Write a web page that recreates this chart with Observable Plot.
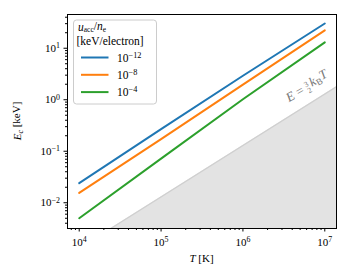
<!DOCTYPE html>
<html><head><meta charset="utf-8">
<script src="https://cdn.jsdelivr.net/npm/d3@7"></script>
<script src="https://cdn.jsdelivr.net/npm/@observablehq/plot@0.6"></script>
<style>body{margin:0;background:#fff;} svg{display:block;}</style>
</head><body><div id="chart"></div>
<script>
// ---- data ----
const temperatures = [1e4, 1e5, 1e6, 1e7];            // T [K]
const seriesExponents = ["−12", "−8", "−4"];          // u_acc/n_e = 10^exp keV/electron
const seriesColors = ["#1f77b4", "#ff7f0e", "#2ca02c"];
const energyUm12 = [0.024, 0.268, 2.92, 30.2];        // E_c [keV]
const energyUm8  = [0.0155, 0.172, 1.96, 22.2];
const energyUm4  = [0.0050, 0.072, 1.02, 13.0];
const thermalT = [1e4, 1.4e7];                        // E = 3/2 k_B T boundary
const thermalE = [0.0013, 1.81];
const annotT = [6.1e6];
const annotE = [1.78];
const xTicks = [1e4, 1e5, 1e6, 1e7];
const yTicks = [1e-2, 1e-1, 1e0, 1e1];

const seriesValues = [energyUm12, energyUm8, energyUm4];
const lineData = seriesExponents.flatMap((s, i) =>
  temperatures.map((T, j) => ({series: s, T, E: seriesValues[i][j]})));
const shadeData = thermalT.map((T, i) => ({T, E: thermalE[i]}));
const annotData = annotT.map((T, i) => ({T, E: annotE[i]}));

const minor = (lo, hi) => {
  const out = [];
  for (let d = lo; d <= hi; d++) for (let m = 2; m <= 9; m++) out.push(m * 10 ** d);
  return out;
};
const xDomain = [10 ** 3.857, 10 ** 7.143];
const yDomain = [10 ** -2.5, 10 ** 1.655];
const xMinor = minor(3, 7).filter(v => v > xDomain[0] && v < xDomain[1]);
const yMinor = minor(-3, 1).filter(v => v > yDomain[0] && v < yDomain[1]);
const fmt = d => "10^" + Math.round(Math.log10(d));

const FONT = "'Liberation Serif', 'DejaVu Serif', serif";

const plot = Plot.plot({
  width: 350, height: 280,
  marginLeft: 67, marginRight: 14, marginTop: 14, marginBottom: 52,
  style: {fontFamily: FONT, fontSize: "11px", background: "white", color: "black"},
  x: {type: "log", domain: xDomain},
  y: {type: "log", domain: yDomain},
  color: {domain: seriesExponents, range: seriesColors},
  marks: [
    Plot.areaY(shadeData, {x: "T", y1: () => 1e-4, y2: "E", fill: "#e3e3e3", clip: true}),
    Plot.line(shadeData, {x: "T", y: "E", stroke: "#cfcfcf", strokeWidth: 1.2, clip: true}),
    Plot.line(lineData, {x: "T", y: "E", z: "series", stroke: "series", strokeWidth: 2}),
    Plot.text(annotData, {x: "T", y: "E", text: () => "E", rotate: -30, fill: "#777",
      fontSize: 13, className: "annot"}),
    Plot.axisX(xMinor, {tickSize: 2, tickFormat: () => "", label: null}),
    Plot.axisX(xTicks, {tickSize: 3.5, tickPadding: 6, tickFormat: fmt, label: null, className: "xmaj"}),
    Plot.axisY(yMinor, {tickSize: 2, tickFormat: () => "", label: null}),
    Plot.axisY(yTicks, {tickSize: 3.5, tickPadding: 4, tickFormat: fmt, label: null, className: "ymaj"}),
    Plot.frame({stroke: "black", strokeWidth: 1})
  ]
});
document.getElementById("chart").append(plot);

const svg = d3.select(plot);

// power-of-ten labels with superscripts
function powerText(el, exp) {
  el.text(null);
  el.append("tspan").text("10");
  el.append("tspan").attr("dy", "-0.45em").attr("font-size", "0.72em").text(exp);
}
svg.selectAll("text").each(function () {
  const t = this.textContent;
  const m = /^10\^(-?\d+)$/.exec(t);
  if (m) powerText(d3.select(this), m[1].replace("-", "−"));
});

// annotation E = 3/2 k_B T
svg.selectAll(".annot text").each(function () {
  const el = d3.select(this).text(null);
  el.append("tspan").attr("font-style", "italic").text("E");
  el.append("tspan").text(" = ");
  el.append("tspan").attr("font-size", "0.6em").attr("dy", "-0.55em").text("3");
  el.append("tspan").attr("font-size", "0.6em").attr("dx", "-0.5em").attr("dy", "0.9em").text("2");
  el.append("tspan").attr("font-style", "italic").attr("dy", "-0.35em").attr("dx", "0.15em").text("k");
  el.append("tspan").attr("font-size", "0.7em").attr("dy", "0.25em").text("B");
  el.append("tspan").attr("font-style", "italic").attr("dy", "-0.25em").text("T");
});

// axis labels
const ylab = svg.append("text").attr("font-family", FONT).attr("font-size", 11)
  .attr("text-anchor", "middle").attr("transform", "translate(21,121) rotate(-90)");
ylab.append("tspan").attr("font-style", "italic").text("E");
ylab.append("tspan").attr("font-style", "italic").attr("font-size", "0.72em").attr("dy", "0.25em").text("c");
ylab.append("tspan").attr("dy", "-0.25em").text(" [keV]");

const xlab = svg.append("text").attr("font-family", FONT).attr("font-size", 11)
  .attr("text-anchor", "middle").attr("x", 201.5).attr("y", 262);
xlab.append("tspan").attr("font-style", "italic").text("T");
xlab.append("tspan").text(" [K]");

// legend
const lg = svg.append("g").attr("font-family", FONT).attr("font-size", 11.5)
  .attr("text-anchor", "start");
lg.append("rect").attr("x", 73.5).attr("y", 20).attr("width", 83).attr("height", 84)
  .attr("rx", 3).attr("fill", "white").attr("fill-opacity", 0.8).attr("stroke", "#cccccc");
const t1 = lg.append("text").attr("x", 78).attr("y", 31);
t1.append("tspan").attr("font-style", "italic").text("u");
t1.append("tspan").attr("font-size", "0.65em").attr("dy", "0.2em").text("acc");
t1.append("tspan").attr("dy", "-0.2em").text("/");
t1.append("tspan").attr("font-style", "italic").text("n");
t1.append("tspan").attr("font-size", "0.65em").attr("dy", "0.2em").text("e");
lg.append("text").attr("x", 76.5).attr("y", 44.5).text("[keV/electron]");
seriesExponents.forEach((s, i) => {
  const y = 57.5 + i * 17.3;
  lg.append("line").attr("x1", 81).attr("x2", 108.5).attr("y1", y).attr("y2", y)
    .attr("stroke", seriesColors[i]).attr("stroke-width", 2);
  const t = lg.append("text").attr("x", 117).attr("y", y + 4);
  t.append("tspan").text("10");
  t.append("tspan").attr("dy", "-0.45em").attr("font-size", "0.72em").text(s);
});
</script>
</body></html>
